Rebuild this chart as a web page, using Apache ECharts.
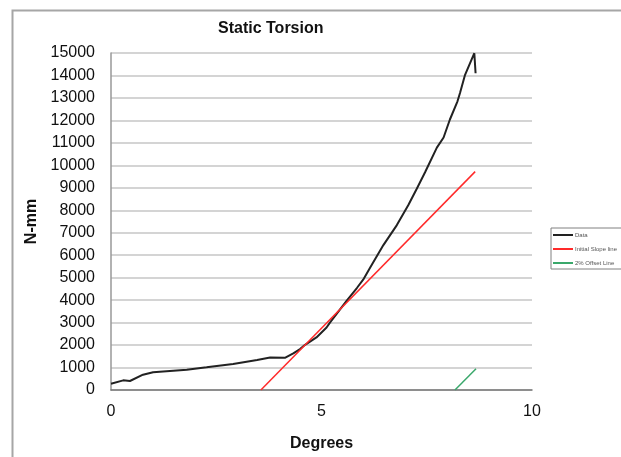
<!DOCTYPE html>
<html>
<head>
<meta charset="utf-8">
<script src="https://cdn.jsdelivr.net/npm/echarts@6/dist/echarts.min.js"></script>
<style>
  html, body { margin: 0; padding: 0; background: #fff; }
  #chart { width: 621px; height: 457px; }
</style>
</head>
<body>
<div id="chart"></div>
<script>
const degrees = [0, 0.02, 0.29, 0.45, 0.76, 1.0, 1.8, 2.27, 2.9, 3.47, 3.78, 4.13, 4.33, 4.49,
  4.61, 4.88, 5.12, 5.2, 5.6, 5.84, 5.99, 6.15, 6.47, 6.79, 7.06, 7.26, 7.46, 7.74, 7.9,
  8.05, 8.23, 8.29, 8.41, 8.63, 8.66];
const torque = [280, 320, 430, 400, 680, 790, 900, 1010, 1160, 1340, 1450, 1430, 1630, 1820,
  2010, 2340, 2780, 3000, 3980, 4540, 4910, 5430, 6450, 7340, 8220, 8950, 9690, 10790, 11240,
  12040, 12850, 13220, 14030, 14990, 14100];

// initial slope line and 2% offset line (end points)
const slopeDeg = [3.56, 8.65];
const slopeVal = [0, 9720];
const offsetDeg = [8.17, 8.67];
const offsetVal = [0, 950];

const seriesNames = ['Data', 'Initial Slope line', '2% Offset Line'];

function pairs(xs, ys) {
  return xs.map((x, i) => [x, ys[i]]);
}

const chart = echarts.init(document.getElementById('chart'));
const font = 'Arial, "Liberation Sans", sans-serif';

chart.setOption({
  animation: false,
  title: {
    text: 'Static Torsion',
    left: 213,
    top: 16,
    textStyle: { fontFamily: font, fontSize: 16, fontWeight: 'bold', color: '#111' }
  },
  graphic: [{
    type: 'rect',
    left: 10,
    top: 8,
    shape: { width: 700, height: 600 },
    style: { fill: 'none', stroke: '#a6a6a6', lineWidth: 2 },
    silent: true
  }],
  legend: {
    orient: 'vertical',
    left: 551,
    top: 228,
    width: 90,
    padding: [4, 30, 3, 2],
    itemGap: 8,
    itemWidth: 20,
    itemHeight: 2,
    icon: 'rect',
    borderColor: '#808080',
    borderWidth: 1,
    textStyle: { fontFamily: font, fontSize: 6, color: '#555', padding: [0, 0, 0, -3] },
    data: seriesNames
  },
  grid: { left: 111, right: 89, top: 53, bottom: 64 },
  xAxis: {
    type: 'value',
    min: 0,
    max: 10,
    interval: 5,
    name: 'Degrees',
    nameLocation: 'middle',
    nameGap: 46,
    nameTextStyle: { fontFamily: font, fontSize: 16, fontWeight: 'bold', color: '#111' },
    axisLine: { lineStyle: { color: '#777', width: 1.5 } },
    axisTick: { show: false },
    axisLabel: { fontFamily: font, fontSize: 16, color: '#111', margin: 14 },
    splitLine: { show: false }
  },
  yAxis: {
    type: 'value',
    min: 0,
    max: 15000,
    interval: 1000,
    name: 'N-mm',
    nameLocation: 'middle',
    nameGap: 68,
    nameRotate: 90,
    nameTextStyle: { fontFamily: font, fontSize: 16, fontWeight: 'bold', color: '#111' },
    axisLine: { show: true, lineStyle: { color: '#999', width: 1.5 } },
    axisTick: { show: false },
    axisLabel: {
      fontFamily: font, fontSize: 16, color: '#111', margin: 16,
      formatter: v => String(v)
    },
    splitLine: { lineStyle: { color: '#d4d4d4', width: 2 } }
  },
  series: [
    {
      name: seriesNames[0],
      type: 'line',
      showSymbol: false,
      data: pairs(degrees, torque),
      lineStyle: { color: '#222', width: 2 },
      itemStyle: { color: '#222' },
      z: 3
    },
    {
      name: seriesNames[1],
      type: 'line',
      showSymbol: false,
      data: pairs(slopeDeg, slopeVal),
      lineStyle: { color: '#ff2a2a', width: 1.5 },
      itemStyle: { color: '#ff2a2a' },
      z: 4
    },
    {
      name: seriesNames[2],
      type: 'line',
      showSymbol: false,
      data: pairs(offsetDeg, offsetVal),
      lineStyle: { color: '#3aa86b', width: 1.5 },
      itemStyle: { color: '#3aa86b' },
      z: 4
    }
  ]
});
</script>
</body>
</html>
